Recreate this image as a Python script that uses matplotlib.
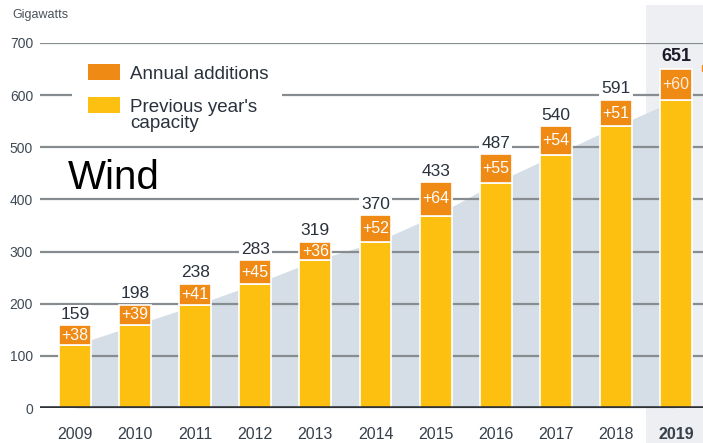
import matplotlib
matplotlib.use("Agg")
import matplotlib.pyplot as plt
from matplotlib.patches import Rectangle

# Cumulative installed wind capacity (GW) and the additions in each year
years = ["2009", "2010", "2011", "2012", "2013", "2014", "2015", "2016", "2017", "2018", "2019"]
totals = [159, 198, 238, 283, 319, 370, 433, 487, 540, 591, 651]
additions = [38, 39, 41, 45, 36, 52, 64, 55, 54, 51, 60]
previous = [t - a for t, a in zip(totals, additions)]

y_ticks = [0, 100, 200, 300, 400, 500, 600, 700]

YELLOW = "#FDC010"
ORANGE = "#EF8A14"
AREA = "#D5DEE6"
BAND = "#EDEFF2"
GRID = "#878C91"
TEXT = "#2A323D"
FONT = "Liberation Sans"

W, H = 703, 443
fig = plt.figure(figsize=(W / 100, H / 100), dpi=100)


def fx(x):
    return x / W


def fy(y):
    return 1 - y / H


# axes frame in pixels: left 40, right 703, baseline 408, top (700 GW) 43
ax = fig.add_axes([fx(40), fy(408), fx(663), 365 / H])
pitch = 60.1
first_center = 75
ax.set_xlim((40 - first_center) / pitch, (W - first_center) / pitch)
ax.set_ylim(0, 700)

xs = list(range(len(years)))

# highlighted latest year column
ax.axvspan(len(years) - 1.5, ax.get_xlim()[1], ymin=-0.1, ymax=1.104,
           color=BAND, zorder=0, clip_on=False, lw=0)

# trend area joining previous-year capacity between bars
ax.fill_between(xs, 0, previous, color=AREA, lw=0, zorder=1)

# gridlines
for v in y_ticks[1:]:
    ax.axhline(v, color=GRID, lw=1.6, zorder=2)
ax.axhline(0, color="#2E3236", lw=2.6, zorder=5)

bw = 0.53
ax.bar(xs, previous, width=bw, color=YELLOW, edgecolor="white", lw=1.2, zorder=3)
ax.bar(xs, additions, bottom=previous, width=bw, color=ORANGE,
       edgecolor="white", lw=1.2, zorder=3)

last = len(years) - 1
for i, (p, a, t) in enumerate(zip(previous, additions, totals)):
    ax.text(i, p + a / 2, f"+{a}", ha="center", va="center", color="white",
            fontsize=11.5, family=FONT, zorder=6,
            alpha=0.85 if i == last else 1.0)
    bold = i == last
    ax.annotate(str(t), (i, t), xytext=(0, 2.5), textcoords="offset points",
                ha="center", va="bottom", fontsize=13 if bold else 12.5,
                family=FONT, fontweight="bold" if bold else "normal",
                color="#1B1B2A" if bold else TEXT, zorder=6,
                bbox=dict(boxstyle="square,pad=0.12",
                          fc=BAND if bold else "white", ec="none"))

# small pointer at the right edge
ax.plot(ax.get_xlim()[1] + 0.03, 652, marker=">", ms=4.5, color=ORANGE,
        clip_on=False, zorder=6)

ax.set_yticks(y_ticks)
ax.set_yticklabels([str(v) for v in y_ticks], family=FONT, fontsize=10,
                   color="#3F4A55")
ax.set_xticks(xs)
ax.set_xticklabels(years, family=FONT, fontsize=11.5, color="#36404B")
ax.get_xticklabels()[last].set_fontweight("bold")
ax.tick_params(axis="both", length=0)
ax.tick_params(axis="y", pad=5)
ax.tick_params(axis="x", pad=14)
for s in ax.spines.values():
    s.set_visible(False)
ax.patch.set_alpha(0)

# unit label
fig.text(fx(12), fy(15), "Gigawatts", ha="left", va="center", fontsize=9,
         family=FONT, color="#4A525A")

# legend box (covers the gridline behind it)
fig.add_artist(Rectangle((fx(72), fy(137)), fx(210), 82 / H,
                         transform=fig.transFigure, fc="white", ec="none",
                         zorder=2))
fig.add_artist(Rectangle((fx(88), fy(80)), fx(32), 16 / H,
                         transform=fig.transFigure, fc=ORANGE, ec="none",
                         zorder=3))
fig.add_artist(Rectangle((fx(88), fy(113)), fx(32), 16 / H,
                         transform=fig.transFigure, fc=YELLOW, ec="none",
                         zorder=3))
fig.text(fx(130), fy(79), "Annual additions", ha="left", va="baseline",
         fontsize=13.5, family=FONT, color=TEXT, zorder=4)
fig.text(fx(130), fy(112), "Previous year's", ha="left", va="baseline",
         fontsize=13.5, family=FONT, color=TEXT, zorder=4)
fig.text(fx(130), fy(128), "capacity", ha="left", va="baseline",
         fontsize=13.5, family=FONT, color=TEXT, zorder=4)

# panel title
fig.text(fx(68), fy(189), "Wind", ha="left", va="baseline", fontsize=29,
         family=FONT, color="black", zorder=4)

fig.savefig("out.png", dpi=100)
